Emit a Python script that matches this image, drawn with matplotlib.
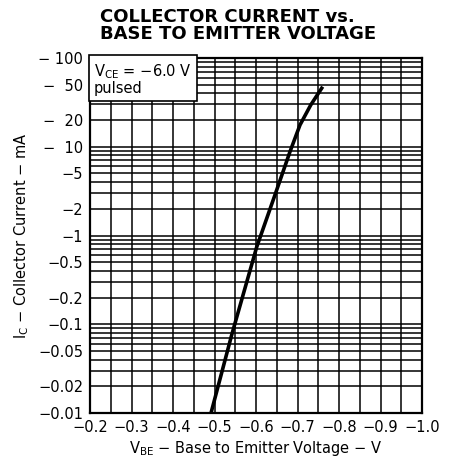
import matplotlib
matplotlib.use("Agg")
import matplotlib.pyplot as plt
import numpy as np
from matplotlib.ticker import FixedLocator, NullFormatter

# Data (magnitudes; labels shown negative)
vbe = [0.4916, 0.5414, 0.6017, 0.6499, 0.6819, 0.7060, 0.7318, 0.7607]
ic = [0.01, 0.0757, 0.742, 3.26, 8.8, 17.6, 29.5, 47.5]

x_ticks = [0.2, 0.3, 0.4, 0.5, 0.6, 0.7, 0.8, 0.9, 1.0]
x_labels = ["\u22120.2", "\u22120.3", "\u22120.4", "\u22120.5", "\u22120.6",
            "\u22120.7", "\u22120.8", "\u22120.9", "\u22121.0"]
y_ticks = [100, 50, 20, 10, 5, 2, 1, 0.5, 0.2, 0.1, 0.05, 0.02, 0.01]
y_labels = ["\u2212 100", "\u2212  50", "\u2212  20", "\u2212  10", "\u22125", "\u22122", "\u22121",
            "\u22120.5", "\u22120.2", "\u22120.1", "\u22120.05", "\u22120.02", "\u22120.01"]

plt.rcParams['font.family'] = ['DejaVu Sans']

fig = plt.figure(figsize=(4.51, 4.63), dpi=100)
ax = fig.add_axes([90/451, 50/463, 332/451, 355/463])

ax.set_yscale('log')
ax.set_xlim(0.2, 1.0)
ax.set_ylim(0.01, 100)

# grid
minor_x = np.arange(0.2, 1.0001, 0.05)
ax.xaxis.set_minor_locator(FixedLocator(minor_x))
ax.xaxis.set_minor_formatter(NullFormatter())
ax.set_xticks(x_ticks)
ax.set_xticklabels(x_labels, fontsize=10.5)
ax.set_yticks(y_ticks)
ax.set_yticklabels(y_labels, fontsize=10.5)
ax.yaxis.set_minor_formatter(NullFormatter())
ax.grid(which='both', color='black', linewidth=1.1)
ax.tick_params(which='both', length=0, pad=5)

for s in ax.spines.values():
    s.set_linewidth(1.6)
    s.set_color('black')

ax.plot(vbe, ic, color='black', linewidth=2.6, solid_capstyle='butt',
        solid_joinstyle='round', zorder=3)

ax.text(0.012, 0.988, "V$_{\\mathrm{CE}}$ = \u22126.0 V\npulsed", transform=ax.transAxes,
        ha='left', va='top', fontsize=10.5, linespacing=1.0, zorder=5,
        bbox=dict(boxstyle='square,pad=0.35', facecolor='white', edgecolor='black', linewidth=1.2))

ax.set_xlabel("V$_{\\mathrm{BE}}$ \u2212 Base to Emitter Voltage \u2212 V", fontsize=10.5, labelpad=3)
ax.set_ylabel("I$_{\\mathrm{C}}$ \u2212 Collector Current \u2212 mA", fontsize=10.5, labelpad=5)

fig.text(100/451, 0.982, "COLLECTOR CURRENT vs.\nBASE TO EMITTER VOLTAGE", ha='left', va='top',
         multialignment='left', fontsize=13, fontweight='bold', linespacing=0.92)

fig.savefig("out.png", dpi=100)
